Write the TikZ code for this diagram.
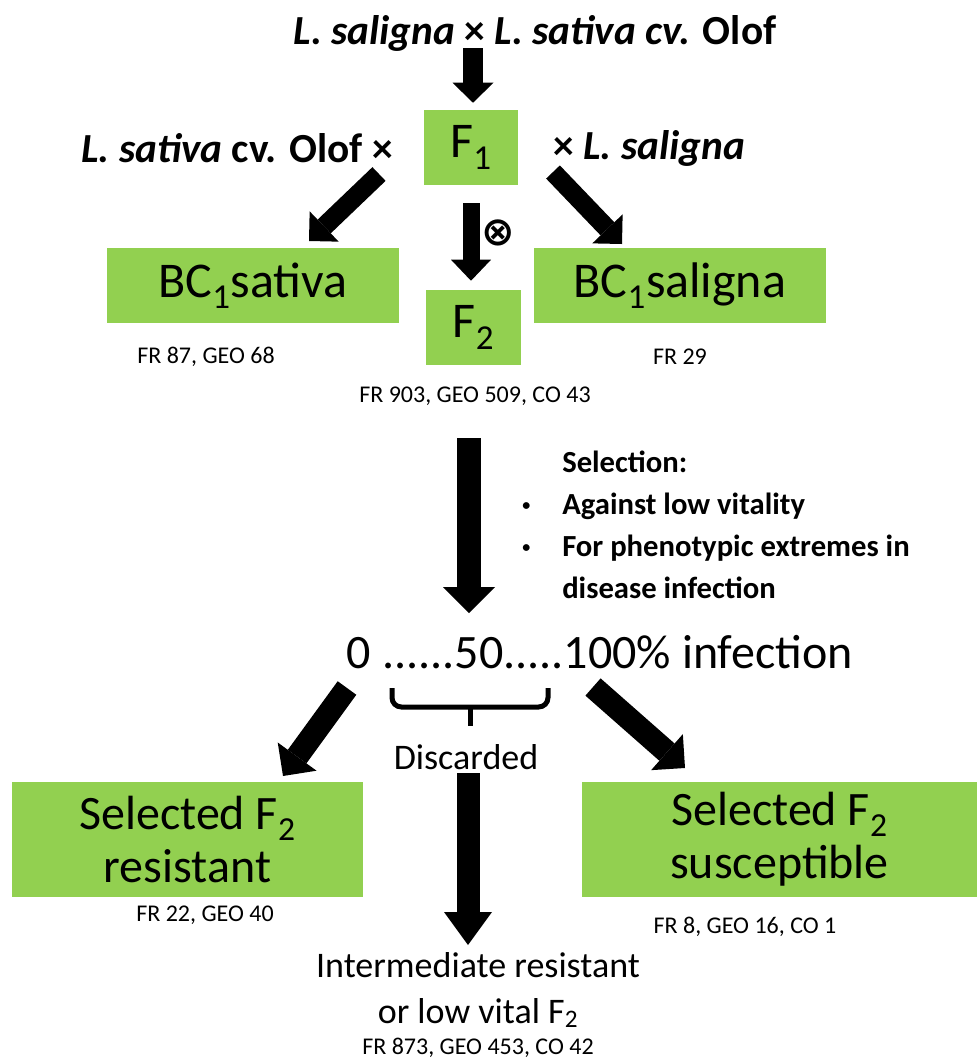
\documentclass[tikz,border=0pt]{standalone}
\usepackage{fontspec}
\setmainfont{Carlito}
\newfontfamily\symfont{DejaVu Sans}
\usetikzlibrary{arrows.meta}
\definecolor{leaf}{HTML}{92D050}
\newcommand\fsz[2]{\fontsize{#1}{#2}\selectfont}
\newcommand\dotb{\raisebox{3pt}{\fsz{12}{12}\textbullet}}

\begin{document}
\begin{tikzpicture}[x=0.75pt,y=-0.75pt]
    \tikzset{
      gb/.style={fill=leaf,inner sep=0pt,align=center,minimum height=56.25pt},
      big/.style={gb,font=\fsz{37.5}{40}},
      sel/.style={gb,minimum height=86.25pt,font=\fsz{36}{39.5}},
      lb/.style={inner sep=0pt,align=center},
      hd/.style={lb,font=\bfseries\fsz{31}{36}},
      nr/.style={lb,font=\fsz{18}{21}},
      ar/.style n args={3}{line width=#1,-{Triangle[width=#2,length=#3,line width=0pt]}}}
    \useasboundingbox (0,0) rectangle (977,1061);
    % crosses
    \node[hd] (par) at (535,33) {\textit{L. saligna} × \textit{L. sativa cv.} Olof};
    \node[big,minimum width=70.5pt] (f1) at (471,147.5) {F\textsubscript{1}};
    \node[hd,anchor=east] (xsat) at (393,148) {\textit{L. sativa} cv. Olof ×};
    \node[hd,anchor=west] (xsal) at (553,148) {× \textit{L. saligna}};
    \node[big,minimum width=219pt] (bcs) at (253,285.5) {BC\textsubscript{1}sativa};
    \node[big,minimum width=219pt] (bcl) at (680,285.5) {BC\textsubscript{1}saligna};
    \node[big,minimum width=71.25pt] (f2) at (473.5,327.5) {F\textsubscript{2}};
    \node[lb,font=\symfont\bfseries\fsz{30}{32}] (self) at (498,233) {⊗};
    \node[nr] (nbcs) at (206,357) {FR 87, GEO 68};
    \node[nr] (nbcl) at (680,357) {FR 29};
    \node[nr] (nf2) at (475,396) {FR 903, GEO 509, CO 43};
    \coordinate (a1) at (379,174); \coordinate (b1) at (309,241);
    \coordinate (a2) at (553,172); \coordinate (b2) at (622,244);
    \draw[ar={15pt}{30.75pt}{15pt}] (par.south -| 473,0) ++(0,-3) coordinate (a0) (a0) -- (f1.north -| a0) [shorten >=5.25pt];
    \draw[ar={14.25pt}{31.5pt}{15.75pt}] (a1) -- (b1);
    \draw[ar={14.25pt}{31.5pt}{15.75pt}] (a2) -- (b2);
    \draw[ar={12.75pt}{30pt}{15.75pt},shorten <=13.5pt,shorten >=6.75pt] (f1.south) -- (f1.south |- f2.north);
    % selection
    \coordinate (a4) at (469,438); \coordinate (b4) at (469,613);
    \draw[ar={18pt}{39pt}{19.5pt}] (a4) -- (b4);
    \node[anchor=north west,inner sep=0pt,font=\bfseries\fsz{23}{31.5}] (crit) at (522,443) {%
      \begin{tabular}{@{}p{30pt}@{}l@{}}
        & Selection:\\
        \dotb & Against low vitality\\
        \dotb & For phenotypic extremes in\\
        & disease infection
      \end{tabular}};
    \node[lb,font=\fsz{36}{40}] (scale) at (600,652) {0 ......50.....100\% infection};
    \draw[line width=3.75pt,rounded corners=7pt] (392,688) -- (392,707) -- (548,707) -- (548,688);
    \draw[line width=3.75pt] (470,707) -- (470,726);
    \node[lb,font=\fsz{27}{30}] (disc) at (466,757) {Discarded};
    % selected groups
    \node[sel,minimum width=263.25pt] (res) at (187.5,839.5) {Selected F\textsubscript{2}\\resistant};
    \node[sel,minimum width=296.25pt] (sus) at (779.5,839.5) {Selected F\textsubscript{2}\\susceptible};
    \coordinate (a5) at (347,688); \coordinate (b5) at (283,776);
    \coordinate (a6) at (593,687); \coordinate (b6) at (685,768);
    \coordinate (a7) at (468,773); \coordinate (b7) at (468,945);
    \draw[ar={17.25pt}{36pt}{18pt}] (a5) -- (b5);
    \draw[ar={17.25pt}{36pt}{18pt}] (a6) -- (b6);
    \draw[ar={17.25pt}{36pt}{24.75pt}] (a7) -- (b7);
    \node[nr] (nres) at (205,915) {FR 22, GEO 40};
    \node[nr] (nsus) at (745,927) {FR 8, GEO 16, CO 1};
    \node[lb,font=\fsz{27}{34.5}] (mid) at (478,990) {Intermediate resistant\\or low vital F\textsubscript{2}};
    \node[nr] (nmid) at (478,1048) {FR 873, GEO 453, CO 42};
\end{tikzpicture}
\end{document}
